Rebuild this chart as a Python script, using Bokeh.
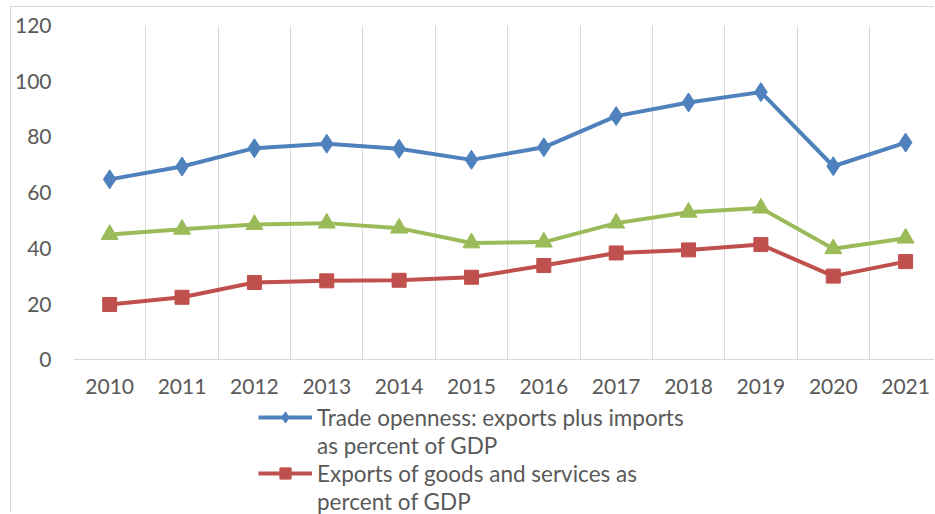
from bokeh.plotting import figure
from bokeh.models import Range1d, FixedTicker, Legend, LegendItem, ColumnDataSource, Grid
from bokeh.embed import file_html
from bokeh.resources import INLINE

years = [2010, 2011, 2012, 2013, 2014, 2015, 2016, 2017, 2018, 2019, 2020, 2021]
trade_openness = [64.8, 69.4, 76.0, 77.6, 75.8, 71.8, 76.3, 87.5, 92.4, 96.1, 69.5, 78.0]
exports_pct = [19.9, 22.5, 27.8, 28.4, 28.6, 29.7, 33.9, 38.4, 39.5, 41.4, 30.1, 35.3]
imports_pct = [45.0, 46.9, 48.6, 49.1, 47.3, 42.0, 42.3, 49.1, 53.0, 54.5, 39.9, 43.7]
y_ticks = [0, 20, 40, 60, 80, 100, 120]
legend_lines_trade = ["Trade openness: exports plus imports", "as percent of GDP"]
legend_lines_exports = ["Exports of goods and services as", "percent of GDP"]

src = ColumnDataSource(dict(year=years, trade=trade_openness, exp=exports_pct, imp=imports_pct))

FONT = "Lato"
GRAY = "#595959"
GRID = "#d9d9d9"
BLUE = "#4F81BD"
RED = "#C0504D"
GREEN = "#9BBB59"

# frame runs to the bottom of the picture; value 0 sits where the reference's axis line is
Y_MIN = -55.43

p = figure(width=924, height=507, output_backend="svg", toolbar_location=None,
           x_range=Range1d(years[0] - 0.5, years[0] - 0.5 + 11.913),
           y_range=Range1d(Y_MIN, y_ticks[-1]),
           min_border_left=62, min_border_top=18, min_border_right=0, min_border_bottom=0,
           margin=(6, 0, 0, 10),
           styles={"border-left": "1px solid #d9d9d9", "border-top": "1px solid #d9d9d9"})
p.outline_line_color = None
p.background_fill_color = "white"
p.border_fill_color = "white"

# x axis drawn at value 0
p.xaxis.fixed_location = 0
p.xaxis.ticker = FixedTicker(ticks=years)
p.xaxis.axis_line_color = GRID
p.xaxis.axis_line_width = 1
p.xaxis.major_tick_line_color = None
p.xaxis.minor_tick_line_color = None
p.xaxis.major_tick_out = 0
p.xaxis.major_tick_in = 0
p.xaxis.major_label_standoff = 19
p.xaxis.major_label_text_font = FONT
p.xaxis.major_label_text_font_size = "21px"
p.xaxis.major_label_text_color = GRAY

p.yaxis.ticker = FixedTicker(ticks=y_ticks)
p.yaxis.axis_line_color = None
p.yaxis.major_tick_line_color = None
p.yaxis.minor_tick_line_color = None
p.yaxis.major_tick_out = 0
p.yaxis.major_label_standoff = 22
p.yaxis.major_label_text_font = FONT
p.yaxis.major_label_text_font_size = "21px"
p.yaxis.major_label_text_color = GRAY

p.ygrid.grid_line_color = None
boundaries = [y - 0.5 for y in years] + [years[-1] + 0.5]
if "cross_bounds" in Grid.properties():
    p.xgrid.ticker = FixedTicker(ticks=boundaries)
    p.xgrid.grid_line_color = GRID
    p.xgrid.grid_line_width = 1
    p.xgrid.cross_bounds = (0, y_ticks[-1])
else:
    p.xgrid.grid_line_color = None
    p.segment(x0=boundaries, x1=boundaries, y0=[0] * len(boundaries),
              y1=[y_ticks[-1]] * len(boundaries), line_color=GRID, line_width=1)

# series
l_trade = p.line("year", "trade", source=src, line_color=BLUE, line_width=4)
m_trade = p.scatter("year", "trade", source=src, marker="diamond", size=19,
                    fill_color=BLUE, line_color=BLUE)
l_imp = p.line("year", "imp", source=src, line_color=GREEN, line_width=4)
m_imp = p.scatter("year", "imp", source=src, marker="triangle", size=17,
                  fill_color=GREEN, line_color=GREEN)
l_exp = p.line("year", "exp", source=src, line_color=RED, line_width=4)
m_exp = p.scatter("year", "exp", source=src, marker="square", size=14,
                  fill_color=RED, line_color=RED)
blank = p.line(x=[], y=[], line_alpha=0)

legend = Legend(items=[LegendItem(label=legend_lines_trade[0], renderers=[l_trade, m_trade]),
                       LegendItem(label=legend_lines_trade[1], renderers=[blank]),
                       LegendItem(label=legend_lines_exports[0], renderers=[l_exp, m_exp]),
                       LegendItem(label=legend_lines_exports[1], renderers=[blank])],
                location=(185, -1), orientation="vertical", margin=0,
                glyph_width=54, glyph_height=28, label_height=28, label_standoff=5,
                spacing=0, padding=0,
                label_text_font=FONT, label_text_font_size="22.5px", label_text_color=GRAY,
                border_line_color=None, background_fill_alpha=0,
                inactive_fill_alpha=0)
p.add_layout(legend)

open("out.html", "w").write(file_html(p, INLINE))
